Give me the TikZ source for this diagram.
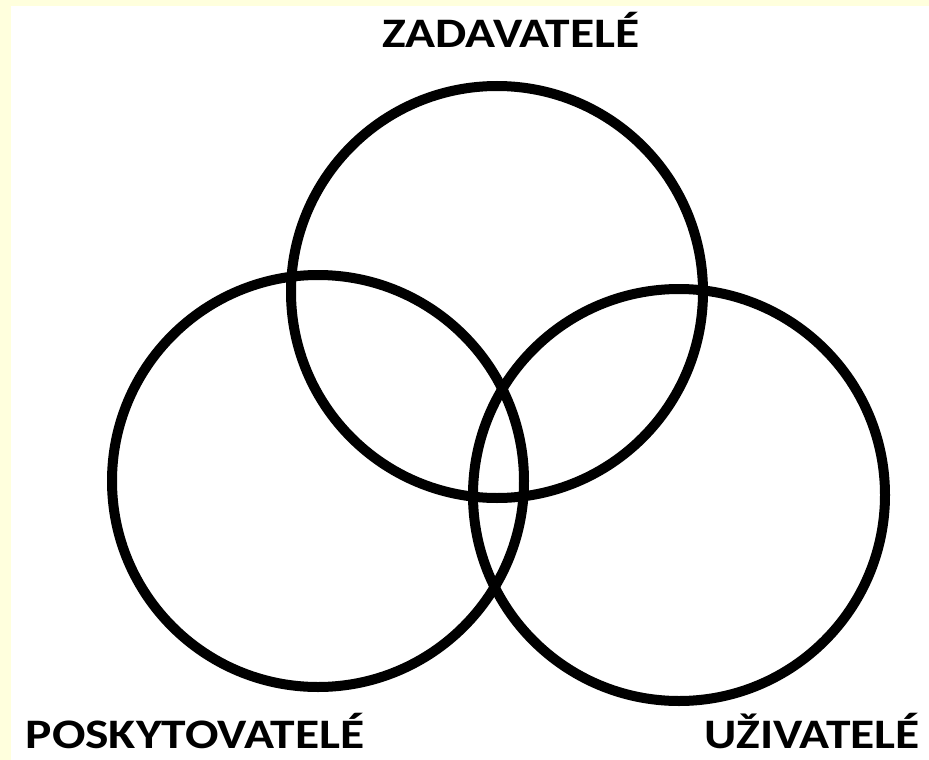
\documentclass[tikz,border=0pt]{standalone}
\usepackage{fontspec}
\setmainfont{Carlito}
\definecolor{PaleYellow}{RGB}{255,255,221}
\usetikzlibrary{positioning}
\tikzset{
  set/.style={circle,draw=black,line width=10pt,minimum size=412pt,inner sep=0pt},
  grouplabel/.style={font=\fontsize{42}{50}\selectfont\bfseries,inner sep=0pt,anchor=base,
    xscale=1.18,transform shape}
}
\begin{document}
\begin{tikzpicture}[x=1pt,y=-1pt]
% frame
\fill[PaleYellow] (0,0) rectangle (929,760);
\fill[white] (11,6) rectangle (929,760);
\useasboundingbox (0,0) rectangle (929,760);
% sets
\node[set] (zad) at (497,292) {};
\node[set] (pos) at (318,481) {};
\node[set] (uzi) at (679,495) {};
% labels
\node[grouplabel] (zadlab) at (511,48) {ZADAVATELÉ};
\node[grouplabel] (poslab) at (195,748) {POSKYTOVATELÉ};
\node[grouplabel] (uzilab) at (812,748) {UŽIVATELÉ};
\end{tikzpicture}
\end{document}
